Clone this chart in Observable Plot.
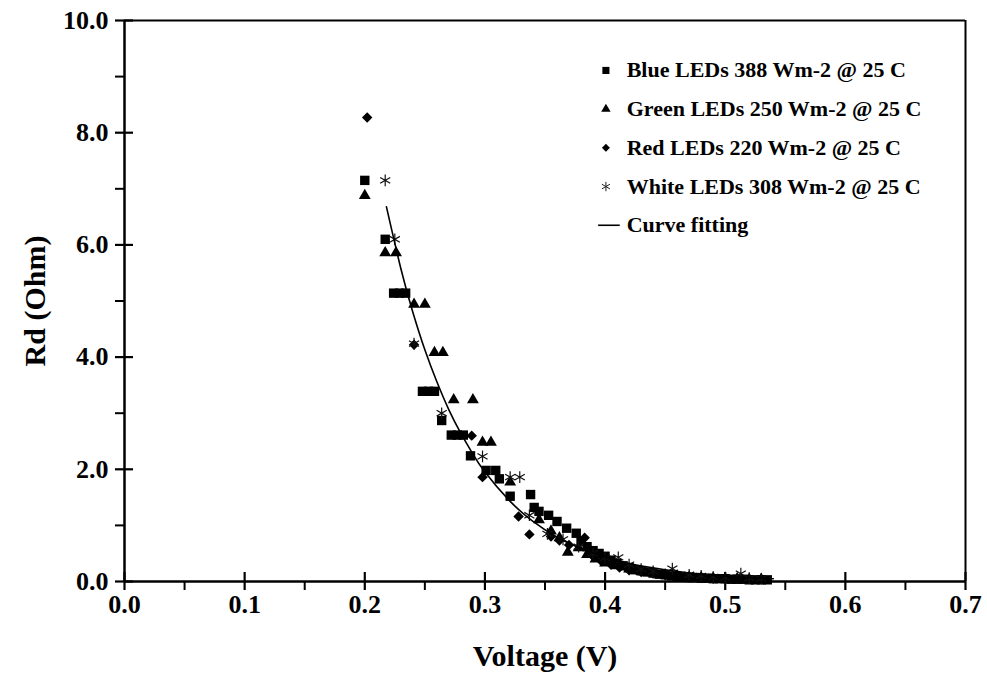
<!DOCTYPE html>
<html><head><meta charset="utf-8">
<script src="https://cdn.jsdelivr.net/npm/d3@7"></script>
<script src="https://cdn.jsdelivr.net/npm/@observablehq/plot@0.6"></script>
<style>body{margin:0;background:#fff;} svg{display:block}</style>
</head><body><div id="chart"></div>
<script>
// ---- data ----
const blueV = [0.200,0.217,0.224,0.229,0.234,0.248,0.253,0.258,0.264,0.272,0.277,0.282,0.288,0.301,0.309,0.312,0.321,0.338,0.341,0.345,0.353,0.360,0.368,0.376,0.380,0.385,0.390,0.395,0.400,0.405,0.410,0.415,0.420,0.425,0.430,0.435,0.440,0.445,0.450,0.455,0.460,0.465,0.470,0.475,0.480,0.485,0.490,0.495,0.500,0.505,0.510,0.515,0.520,0.525,0.530,0.535];
const blueR = [7.15,6.10,5.14,5.14,5.14,3.39,3.39,3.39,2.87,2.61,2.61,2.61,2.24,1.98,1.98,1.83,1.52,1.55,1.32,1.25,1.18,1.07,0.95,0.86,0.72,0.62,0.55,0.50,0.45,0.38,0.32,0.28,0.25,0.21,0.19,0.17,0.15,0.13,0.12,0.10,0.09,0.08,0.07,0.07,0.06,0.06,0.05,0.05,0.05,0.04,0.04,0.04,0.03,0.03,0.03,0.03];
const greenV = [0.200,0.217,0.226,0.241,0.250,0.258,0.265,0.274,0.290,0.298,0.305,0.321,0.345,0.355,0.362,0.369,0.378,0.385,0.392,0.400,0.410,0.420,0.430,0.440,0.450,0.460,0.470,0.480,0.490,0.500,0.510,0.520,0.530];
const greenR = [6.88,5.86,5.86,4.94,4.94,4.08,4.08,3.24,3.24,2.48,2.48,1.77,1.10,0.90,0.78,0.52,0.60,0.48,0.40,0.33,0.28,0.22,0.18,0.15,0.12,0.10,0.08,0.07,0.06,0.05,0.05,0.04,0.04];
const redV = [0.202,0.241,0.289,0.298,0.328,0.337,0.355,0.362,0.370,0.383,0.390,0.397,0.405,0.412,0.420,0.430,0.440,0.450,0.460,0.470,0.480,0.490,0.500];
const redR = [8.27,4.22,2.60,1.86,1.16,0.84,0.80,0.73,0.65,0.78,0.45,0.36,0.30,0.25,0.20,0.17,0.14,0.11,0.09,0.07,0.06,0.05,0.04];
const whiteV = [0.217,0.225,0.241,0.264,0.298,0.321,0.329,0.337,0.352,0.365,0.378,0.390,0.400,0.411,0.420,0.430,0.440,0.456,0.470,0.480,0.490,0.500,0.513,0.520,0.530];
const whiteR = [7.15,6.10,4.24,3.00,2.23,1.86,1.86,1.18,0.85,0.75,0.62,0.50,0.42,0.43,0.30,0.22,0.18,0.23,0.12,0.10,0.08,0.07,0.14,0.06,0.05];
const fitV = [0.218,0.230,0.240,0.250,0.260,0.270,0.280,0.290,0.300,0.320,0.340,0.360,0.380,0.400,0.420,0.450,0.480,0.510,0.540];
const fitR = [6.68,5.58,4.80,4.13,3.56,3.06,2.64,2.27,1.95,1.45,1.07,0.79,0.59,0.44,0.32,0.21,0.13,0.08,0.05];

const xMajor = [0,0.1,0.2,0.3,0.4,0.5,0.6,0.7];
const xMinor = [0.05,0.15,0.25,0.35,0.45,0.55,0.65];
const yMajor = [0,2,4,6,8,10];
const yMinor = [1,3,5,7,9];
const legendLabels = ["Blue LEDs 388 Wm-2 @ 25 C","Green LEDs 250 Wm-2 @ 25 C","Red LEDs 220 Wm-2 @ 25 C","White LEDs 308 Wm-2 @ 25 C","Curve fitting"];
const xTitle = "Voltage (V)";
const yTitle = "Rd (Ohm)";

// ---- build ----
const zip = (V, R) => V.map((v, i) => ({v, r: R[i]}));
const font = "'Liberation Serif', 'Times New Roman', serif";
const legX = 0.4007, legTextX = 0.418, legY0 = 9.11, legStep = 0.69;
const leg = legendLabels.map((t, i) => ({t, v: legX, tv: legTextX, r: legY0 - i * legStep}));

const chart = Plot.plot({
  width: 987, height: 689,
  marginLeft: 124, marginRight: 22, marginTop: 20, marginBottom: 108,
  style: {fontFamily: font, fontWeight: "bold", background: "#fff", color: "#000"},
  x: {domain: [0, 0.7]},
  y: {domain: [0, 10]},
  marks: [
    Plot.axisX({ticks: xMajor, tickSize: 0, tickPadding: 13, tickFormat: d3.format(".1f"), fontSize: 26, label: null}),
    Plot.axisY({ticks: yMajor, tickSize: 0, tickPadding: 16, tickFormat: d3.format(".1f"), fontSize: 26, label: null}),
    // tick marks: major cross the axis, minor point outward
    Plot.ruleX(xMajor, {x: d => d, y1: 0, y2: 0, insetTop: -9, insetBottom: -9, strokeWidth: 2.2}),
    Plot.ruleX(xMinor, {x: d => d, y1: 0, y2: 0, insetTop: 0, insetBottom: -9, strokeWidth: 2}),
    Plot.ruleY(yMajor, {y: d => d, x1: 0, x2: 0, insetLeft: -9, insetRight: -9, strokeWidth: 2.2}),
    Plot.ruleY(yMinor, {y: d => d, x1: 0, x2: 0, insetLeft: -9, insetRight: 0, strokeWidth: 2}),
    Plot.ruleY([10], {strokeWidth: 2}),
    Plot.ruleX([0.7], {strokeWidth: 2}),
    Plot.ruleX([0], {strokeWidth: 2.5}),
    Plot.ruleY([0], {strokeWidth: 2.5}),
    Plot.text([xTitle], {text: d => d, frameAnchor: "bottom", lineAnchor: "middle", textAnchor: "middle", dy: 75, fontSize: 30, fontWeight: "bold"}),
    Plot.text([yTitle], {text: d => d, frameAnchor: "left", textAnchor: "middle", lineAnchor: "middle", dx: -89, rotate: -90, fontSize: 30, fontWeight: "bold"}),
    Plot.dot(zip(blueV, blueR), {x: "v", y: "r", symbol: "square", r: 5.3, fill: "#000", stroke: "none"}),
    Plot.dot(zip(greenV, greenR), {x: "v", y: "r", symbol: "triangle", r: 4.4, fill: "#000", stroke: "none"}),
    Plot.dot(zip(redV, redR), {x: "v", y: "r", symbol: "diamond2", r: 4.7, fill: "#000", stroke: "none"}),
    Plot.dot(zip(whiteV, whiteR), {x: "v", y: "r", symbol: "asterisk", r: 5.5, stroke: "#111", strokeWidth: 1.2}),
    Plot.line(zip(fitV, fitR), {x: "v", y: "r", stroke: "#000", strokeWidth: 1.6, curve: "natural"}),
    // legend
    Plot.dot([leg[0]], {x: "v", y: "r", symbol: "square", r: 4, fill: "#000", stroke: "none"}),
    Plot.dot([leg[1]], {x: "v", y: "r", symbol: "triangle", r: 3.5, fill: "#000", stroke: "none"}),
    Plot.dot([leg[2]], {x: "v", y: "r", symbol: "diamond2", r: 3.6, fill: "#000", stroke: "none"}),
    Plot.dot([leg[3]], {x: "v", y: "r", symbol: "asterisk", r: 4.4, stroke: "#222", strokeWidth: 1}),
    Plot.link([leg[4]], {x1: d => d.v - 0.0065, x2: d => d.v + 0.0115, y1: "r", y2: "r", stroke: "#000", strokeWidth: 1.6}),
    Plot.text(leg, {x: "tv", y: "r", text: "t", textAnchor: "start", fontSize: 22, fontWeight: "bold"})
  ]
});
document.getElementById("chart").appendChild(chart);
</script>
</body></html>
